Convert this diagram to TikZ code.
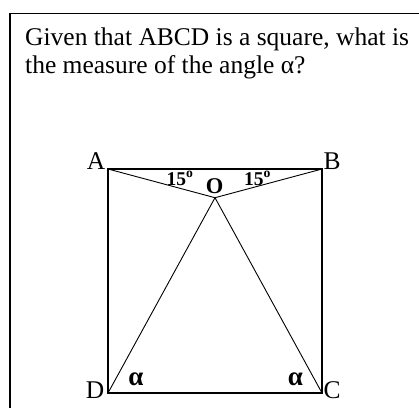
\documentclass[tikz,border=0pt]{standalone}
\usepackage{fontspec}
\setmainfont{Liberation Serif}
\begin{document}
\begin{tikzpicture}[x=1pt,y=-1pt,
  frame/.style={line width=1.5pt},
  sq/.style={line width=2.2pt},
  thin line/.style={line width=0.9pt},
  vlabel/.style={anchor=base,inner sep=0pt,font=\fontsize{25.5}{28}\selectfont},
  blabel/.style={anchor=base,inner sep=0pt,font=\fontsize{19.5}{22}\selectfont\bfseries},
  qtext/.style={anchor=base west,inner sep=0pt,font=\fontsize{25.5}{28}\selectfont}]
\useasboundingbox (0,0) rectangle (419,408);
% outer frame (only top and left visible)
\coordinate (F1) at (419,13.5);
\coordinate (F2) at (10,13.5);
\coordinate (F3) at (10,408);
\draw[frame] (F1) -- (F2) -- (F3);
% question
\node[qtext] (q1) at (25,45) {Given that ABCD is a square, what is};
\node[qtext] (q2) at (25,73) {the measure of the angle α?};
% square
\coordinate (A) at (108,169);
\coordinate (B) at (322,169);
\coordinate (C) at (322,393);
\coordinate (D) at (108,393);
\coordinate (O) at (215,197.7);
\draw[sq,line join=miter] (A) -- (B) -- (C) -- (D) -- cycle;
\draw[thin line] (A) -- (O) -- (B);
\draw[thin line] (D) -- (O) -- (C);
% labels
\node[vlabel] (lA) at (96,169) {A};
\node[vlabel] (lB) at (332,169) {B};
\node[vlabel] (lC) at (332,398) {C};
\node[vlabel] (lD) at (95,398) {D};
\node[blabel,font=\fontsize{22.5}{24}\selectfont\bfseries] (lO) at (214.5,193) {O};
\node[blabel] (a1) at (180,185) {15\textsuperscript{o}};
\node[blabel] (a2) at (257.5,185) {15\textsuperscript{o}};
\node[blabel,font=\fontsize{27}{28}\selectfont\bfseries] (al1) at (136,385) {α};
\node[blabel,font=\fontsize{27}{28}\selectfont\bfseries] (al2) at (295.5,385) {α};
\end{tikzpicture}
\end{document}
